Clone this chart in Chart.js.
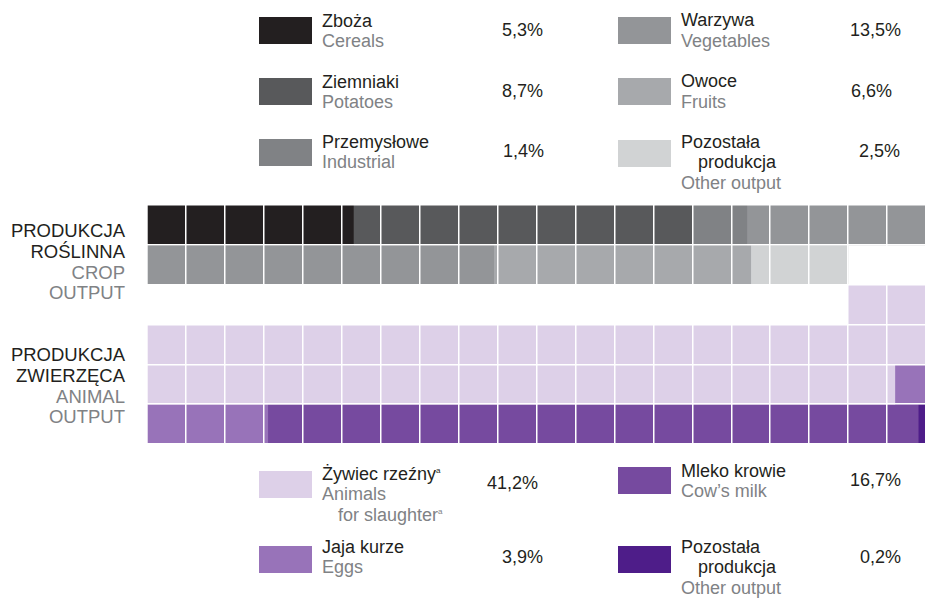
<!DOCTYPE html>
<html>
<head>
<meta charset="utf-8">
<script src="https://cdn.jsdelivr.net/npm/chart.js@4.4.1/dist/chart.umd.min.js"></script>
<style>
  body { margin: 0; background: #fff; font-family: "Liberation Sans", Arial, sans-serif; }
  #wrap { position: relative; width: 926px; height: 598px; overflow: hidden; }
  #mycanvas { position: absolute; left: 147px; top: 205px; }
  .t { position: absolute; white-space: pre; font-size: 18px; line-height: 20.5px; color: #231f20; }
  .en { color: #808285; }
  .sw { position: absolute; width: 53px; height: 27px; }
  .side { position: absolute; right: 801px; text-align: right; font-size: 18.5px; line-height: 20.7px; color: #231f20; white-space: pre; }
  sup { font-size: 8px; vertical-align: 7px; line-height: 0; }
</style>
</head>
<body>
<div id="wrap">
  <canvas id="mycanvas" width="779" height="239"></canvas>
</div>
<script>
// crop output (produkcja roślinna), % of total
var cropPl = ['Zboża', 'Ziemniaki', 'Przemysłowe', 'Warzywa', 'Owoce', 'Pozostała\nprodukcja'];
var cropEn = ['Cereals', 'Potatoes', 'Industrial', 'Vegetables', 'Fruits', 'Other output'];
var cropValues = [5.3, 8.7, 1.4, 13.5, 6.6, 2.5];
var cropColors = ['#231f20', '#58595b', '#808285', '#939598', '#a7a9ac', '#d1d3d4'];

// animal output (produkcja zwierzęca), in the order they fill the grid
var animalPl = ['Żywiec rzeźny', 'Jaja kurze', 'Mleko krowie', 'Pozostała\nprodukcja'];
var animalEn = ['Animals\nfor slaughter', 'Eggs', 'Cow’s milk', 'Other output'];
var animalNote = ['a', '', '', ''];
var animalValues = [41.2, 3.9, 16.7, 0.2];
var animalColors = ['#ddd0e8', '#9873b9', '#764a9f', '#4e1d89'];

var perRow = 20;
var rowLabels = ['1', '2', '3', '4', '5', '6'];

// legend placement
var cropLayout = [
	{x: 259, y: 17, base: 27, px: 502, pbase: 36},
	{x: 259, y: 78, base: 88, px: 502, pbase: 97},
	{x: 259, y: 139, base: 148, px: 503, pbase: 157},
	{x: 618, y: 17, base: 26.5, px: 850, pbase: 36},
	{x: 618, y: 78, base: 87.5, px: 851, pbase: 97},
	{x: 618, y: 140, base: 148, px: 859, pbase: 157}
];
var animalLayout = [
	{x: 259, y: 471, base: 480, px: 487, pbase: 489},
	{x: 259, y: 546, base: 553, px: 502, pbase: 563},
	{x: 618, y: 467, base: 477, px: 850, pbase: 486},
	{x: 618, y: 546, base: 553, px: 860, pbase: 563}
];

var wrap = document.getElementById('wrap');

function addDiv(cls, html, left, top){
	var d = document.createElement('div');
	d.className = cls;
	d.innerHTML = html;
	d.style.left = left + 'px';
	d.style.top = top + 'px';
	wrap.appendChild(d);
	return d;
}

function legendItem(pl, en, note, value, color, pos){
	var sw = addDiv('sw', '', pos.x, pos.y);
	sw.style.background = color;
	var html = '';
	var plLines = pl.split('\n');
	var enLines = en.split('\n');
	for (var i in plLines){
		var s = plLines[i];
		if (note && i == plLines.length - 1) s += '<sup>' + note + '</sup>';
		html += '<div style="padding-left:' + (i > 0 ? 17 : 0) + 'px">' + s + '</div>';
	}
	for (var j in enLines){
		var s2 = enLines[j];
		if (note && j == enLines.length - 1) s2 += '<sup>' + note + '</sup>';
		html += '<div class="en" style="padding-left:' + (j > 0 ? 16 : 0) + 'px">' + s2 + '</div>';
	}
	addDiv('t', html, pos.x + 63, pos.base - 16.5);
	addDiv('t', value.toFixed(1).replace('.', ',') + '%', pos.px, pos.pbase - 16.5);
}

for (var i in cropValues){
	legendItem(cropPl[i], cropEn[i], '', cropValues[i], cropColors[i], cropLayout[i]);
}
for (var k in animalValues){
	legendItem(animalPl[k], animalEn[k], animalNote[k], animalValues[k], animalColors[k], animalLayout[k]);
}

addDiv('side', 'PRODUKCJA\nROŚLINNA\n<span class="en">CROP\nOUTPUT</span>', 0, 221.2);
addDiv('side', 'PRODUKCJA\nZWIERZĘCA\n<span class="en">ANIMAL\nOUTPUT</span>', 0, 345.2);

// split a run of values into per-row floating bars, starting at cell position "start"
function place(values, colors, start){
	var sets = [];
	var pos = start;
	for (var i in values){
		var data = rowLabels.map(function(){ return null; });
		var s = pos;
		var e = pos + values[i];
		while (e - s > 1e-6){
			var row = Math.floor(s / perRow + 1e-9);
			var pieceEnd = Math.min(e, (row + 1) * perRow);
			data[row] = [s - row * perRow, pieceEnd - row * perRow];
			s = pieceEnd;
		}
		pos = e;
		sets.push({
			data: data,
			backgroundColor: colors[i],
			borderWidth: 0,
			grouped: false,
			barPercentage: 1,
			categoryPercentage: 1
		});
	}
	return sets;
}

var animalTotal = animalValues.reduce(function(a, b){ return a + b; }, 0);
var datasets = place(cropValues, cropColors, 0)
	.concat(place(animalValues, animalColors, rowLabels.length * perRow - animalTotal));

var ctx = document.getElementById('mycanvas');
var waffle = new Chart(ctx, {
	type: 'bar',
	data: { labels: rowLabels, datasets: datasets },
	options: {
		indexAxis: 'y',
		responsive: false,
		animation: false,
		layout: { padding: 0 },
		plugins: { legend: { display: false }, tooltip: { enabled: false } },
		scales: {
			x: {
				min: 0, max: perRow,
				ticks: { display: false, stepSize: 1 },
				grid: { color: '#ffffff', lineWidth: 1.5, drawTicks: false, z: 1 },
				border: { display: false }
			},
			y: {
				ticks: { display: false },
				grid: { color: '#ffffff', lineWidth: 1.5, drawTicks: false, offset: true, z: 1 },
				border: { display: false }
			}
		}
	}
});
</script>
</body>
</html>
